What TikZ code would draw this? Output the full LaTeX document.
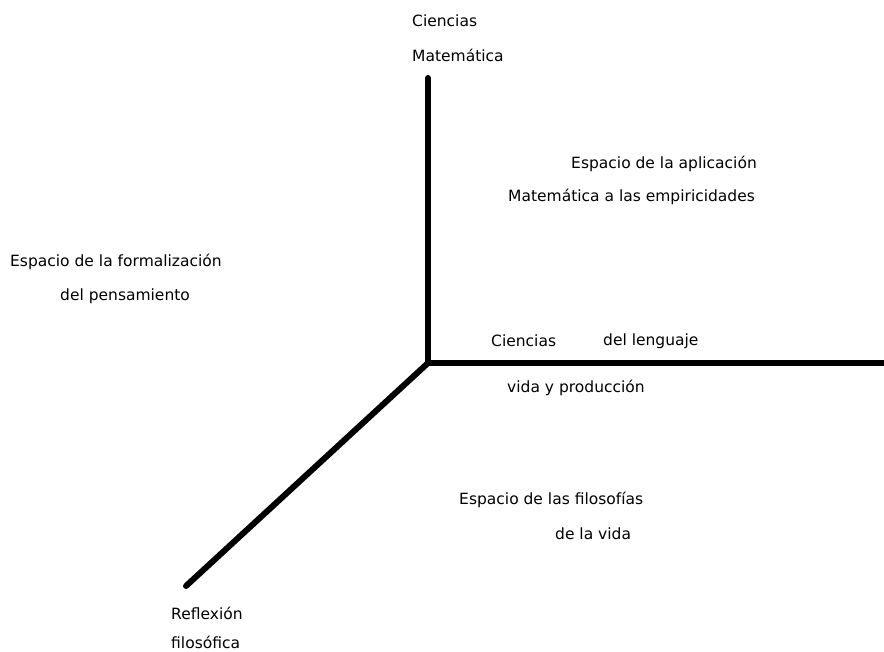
\documentclass[tikz,border=0pt]{standalone}
\usepackage{fontspec}
\setmainfont{DejaVu Sans}
\usetikzlibrary{positioning}

\begin{document}
\begin{tikzpicture}[
      x=1pt, y=-1pt,
      % Define compact styles
      axis/.style={line width=6pt, line cap=round},
      label/.style={anchor=west, inner sep=0pt, font=\fontsize{15.5}{18}\selectfont}
    ]
    \useasboundingbox (0,0) rectangle (884,652);

    % Axes
    \coordinate (origin) at (428,363);
    \coordinate (top) at (428,78);
    \coordinate (right) at (887,363);
    \coordinate (bottom) at (186,586);
    \draw[axis] (top) -- (origin) -- (right);
    \draw[axis] (origin) -- (bottom);

    % Axis ends
    \node[label] (cien1) at (412,21) {Ciencias};
    \node[label] (mate1) at (412,55) {Matemática};
    \node[label] (cien2) at (491,341) {Ciencias};
    \node[label] (lengua) at (603,341) {del lenguaje};
    \node[label] (vida) at (507,388) {vida y producción};
    \node[label] (refle) at (171,613) {Reflexión};
    \node[label] (filo) at (171,642) {filosófica};

    % Spaces
    \node[label] (apli1) at (571,164) {Espacio de la aplicación};
    \node[label] (apli2) at (508,197) {Matemática a las empiricidades};
    \node[label] (form1) at (10,262) {Espacio de la formalización};
    \node[label] (form2) at (60,296) {del pensamiento};
    \node[label] (vida1) at (459,500) {Espacio de las filosofías};
    \node[label] (vida2) at (555,534) {de la vida};

  \end{tikzpicture}
\end{document}
